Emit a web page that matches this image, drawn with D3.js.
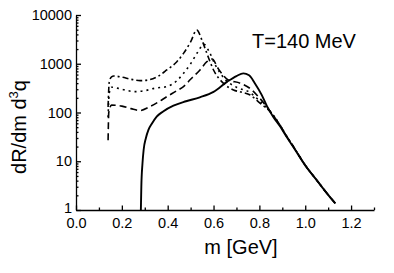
<!DOCTYPE html>
<html>
<head>
<meta charset="utf-8">
<script src="https://cdn.jsdelivr.net/npm/d3@7"></script>
<style>
  body { margin: 0; background: #fff; }
  svg { display: block; font-family: "Liberation Sans", Arial, sans-serif; }
  .curve { fill: none; stroke: #000; }
</style>
</head>
<body>
<svg id="chart" width="394" height="273"></svg>
<script>
// rate curves (m in GeV, dR/dm d3q)
const mSolid = [0.283, 0.285, 0.29, 0.295, 0.305, 0.316, 0.33, 0.352, 0.38, 0.425, 0.48, 0.54, 0.6, 0.66, 0.70, 0.73, 0.755, 0.78, 0.81, 0.833, 0.86, 0.89, 0.92, 0.95, 1.0, 1.05, 1.1, 1.131];
const rSolid = [1, 3, 9, 17, 30, 44, 58, 82, 105, 138, 170, 205, 265, 430, 560, 635, 580, 400, 230, 135, 82, 52, 31, 19, 8.2, 4.1, 2.05, 1.37];

const mDashed = [0.14, 0.143, 0.155, 0.2, 0.24, 0.28, 0.32, 0.36, 0.396, 0.44, 0.469, 0.5, 0.541, 0.571, 0.594, 0.62, 0.664, 0.716, 0.76, 0.8, 0.847, 0.89, 0.92, 0.95, 1.0, 1.05, 1.1, 1.131];
const rDashed = [27, 100, 142, 135, 120, 110, 130, 165, 211, 280, 340, 480, 745, 1100, 1250, 800, 465, 400, 310, 200, 106, 55, 32, 19.5, 8.3, 4.1, 2.05, 1.37];

const mDotted = [0.14, 0.145, 0.155, 0.2, 0.256, 0.3, 0.344, 0.396, 0.44, 0.469, 0.5, 0.53, 0.558, 0.58, 0.61, 0.65, 0.7, 0.76, 0.8, 0.847, 0.89, 0.92, 0.95, 1.0, 1.05, 1.1, 1.131];
const rDotted = [80, 250, 330, 300, 268, 280, 315, 340, 450, 635, 1000, 1700, 2500, 1800, 900, 480, 330, 255, 175, 105, 55, 32, 19.5, 8.3, 4.1, 2.05, 1.37];

const mDashDot = [0.14, 0.145, 0.155, 0.165, 0.2, 0.24, 0.28, 0.32, 0.36, 0.396, 0.44, 0.469, 0.5, 0.527, 0.55, 0.571, 0.6, 0.643, 0.687, 0.72, 0.76, 0.8, 0.847, 0.89, 0.92, 0.95, 1.0, 1.05, 1.1, 1.131];
const rDashDot = [130, 420, 540, 560, 530, 480, 450, 470, 560, 745, 1100, 1630, 2800, 4900, 3000, 1630, 745, 398, 290, 262, 228, 160, 104, 55, 32, 19.5, 8.3, 4.1, 2.05, 1.37];

const yMajor = [1, 10, 100, 1000, 10000];
const xMajor = [0, 0.2, 0.4, 0.6, 0.8, 1.0, 1.2];
const xMinor = [0.1, 0.3, 0.5, 0.7, 0.9, 1.1, 1.3];

const svg = d3.select('#chart');

const x = d3.scaleLinear().domain([0, 1.3]).range([76, 374]);
const y = d3.scaleLog().domain([1, 10000]).range([210, 15]);

// minor ticks of the log axis
const yMinor = [];
yMajor.slice(0, -1).forEach(d => {
    for (let k = 2; k <= 9; k++) yMinor.push(d * k);
});

// y axis, ticks pointing inward
svg.append('g')
    .attr('transform', 'translate(76,0)')
    .call(d3.axisLeft(y).tickValues(yMinor).tickFormat('').tickSize(-2.5).tickSizeOuter(0))
    .call(g => g.select('.domain').remove());
svg.append('g')
    .attr('transform', 'translate(76,0)')
    .call(d3.axisLeft(y).tickValues(yMajor).tickFormat(d3.format('d')).tickSize(-5).tickSizeOuter(0).tickPadding(4))
    .call(g => g.selectAll('text').attr('font-size', 14.5).attr('font-family', 'Liberation Sans, Arial, sans-serif').attr('fill', '#000'))
    .call(g => g.selectAll('.tick text').filter(d => d === 1).attr('dy', '0.15em'));

// x axis
svg.append('g')
    .attr('transform', 'translate(0,210)')
    .call(d3.axisBottom(x).tickValues(xMinor).tickFormat('').tickSize(-2.5).tickSizeOuter(0))
    .call(g => g.select('.domain').remove());
svg.append('g')
    .attr('transform', 'translate(0,210)')
    .call(d3.axisBottom(x).tickValues(xMajor).tickFormat(d3.format('.1f')).tickSize(-4.5).tickSizeOuter(0).tickPadding(8))
    .call(g => g.selectAll('text').attr('font-size', 14.5).attr('font-family', 'Liberation Sans, Arial, sans-serif').attr('fill', '#000'));

svg.selectAll('.domain, .tick line').attr('stroke', '#000').attr('stroke-width', 1.3);

// curves
const line = d3.line()
    .x(d => x(d[0]))
    .y(d => y(d[1]))
    .curve(d3.curveMonotoneX);

const series = [
    { m: mSolid, r: rSolid, dash: null, w: 1.9 },
    { m: mDashed, r: rDashed, dash: '7,4', w: 1.6 },
    { m: mDotted, r: rDotted, dash: '2,4', w: 1.6 },
    { m: mDashDot, r: rDashDot, dash: '6,3,2,3', w: 1.6 }
];

series.forEach(s => {
    svg.append('path')
        .datum(d3.zip(s.m, s.r))
        .attr('class', 'curve')
        .attr('stroke-width', s.w)
        .attr('stroke-dasharray', s.dash)
        .attr('d', line);
});

// labels
svg.append('text')
    .attr('x', 252)
    .attr('y', 48)
    .attr('font-size', 20)
    .text('T=140 MeV');

svg.append('text')
    .attr('x', 241)
    .attr('y', 254)
    .attr('text-anchor', 'middle')
    .attr('font-size', 20)
    .text('m [GeV]');

const yl = svg.append('text')
    .attr('transform', 'translate(26,127) rotate(-90)')
    .attr('text-anchor', 'middle')
    .attr('font-size', 20);
yl.append('tspan').text('dR/dm d');
yl.append('tspan').attr('font-size', 13).attr('dy', -8).text('3');
yl.append('tspan').attr('dy', 8).text('q');
</script>
</body>
</html>
